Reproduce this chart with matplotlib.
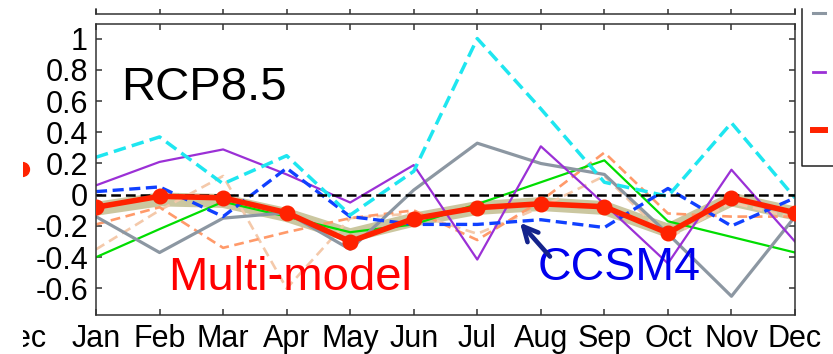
import matplotlib
matplotlib.use("Agg")
import matplotlib.pyplot as plt
from matplotlib.lines import Line2D
from matplotlib.transforms import Bbox, blended_transform_factory, offset_copy

plt.rcParams["font.family"] = ["Liberation Sans", "DejaVu Sans"]
plt.rcParams["axes.unicode_minus"] = False
plt.rcParams["lines.scale_dashes"] = False

# ---- data -------------------------------------------------------------
months = ["Jan", "Feb", "Mar", "Apr", "May", "Jun",
          "Jul", "Aug", "Sep", "Oct", "Nov", "Dec"]
month_idx = list(range(1, 13))

multi_model = [-0.08, -0.01, -0.02, -0.115, -0.30, -0.153,
               -0.083, -0.058, -0.077, -0.245, -0.02, -0.115]
ensemble_band = [-0.09, -0.03, -0.04, -0.13, -0.26, -0.16,
                 -0.085, -0.06, -0.085, -0.23, -0.03, -0.12]
model_gray = [-0.14, -0.37, -0.15, -0.115, -0.35, 0.03,
              0.33, 0.20, 0.13, -0.25, -0.65, -0.14]
model_cyan = [0.24, 0.37, 0.07, 0.25, -0.13, 0.15,
              1.00, 0.55, 0.08, -0.01, 0.46, -0.02]
model_purple = [0.06, 0.21, 0.29, 0.13, -0.05, 0.19,
                -0.415, 0.31, -0.06, -0.44, 0.16, -0.30]
model_green = [-0.40, -0.22, -0.045, -0.14, -0.24, -0.19,
               -0.06, 0.08, 0.22, -0.17, -0.27, -0.37]
ccsm4 = [0.02, 0.05, -0.14, 0.17, -0.14, -0.19,
         -0.19, -0.16, -0.21, 0.04, -0.20, -0.02]
model_salmon = [-0.19, -0.08, -0.34, -0.24, -0.15, -0.10,
                -0.29, -0.04, 0.27, -0.12, -0.14, -0.14]
model_peach = [-0.35, -0.10, 0.12, -0.60, -0.15, -0.12,
               -0.25, -0.08, 0.12, -0.28, -0.05, -0.15]

y_ticks = [-0.6, -0.4, -0.2, 0, 0.2, 0.4, 0.6, 0.8, 1]
y_tick_labels = ["-0.6", "-0.4", "-0.2", "0", "0.2", "0.4", "0.6", "0.8", "1"]

# ---- figure -----------------------------------------------------------
W, H = 833, 354
fig = plt.figure(figsize=(W / 100, H / 100), dpi=100)


def fx(px):
    return px / W


def fy(py):
    return 1 - py / H


RED = "#ff2200"
INK = "#333333"
TICK_FS = 22
X_PAD = 6.8

ax = fig.add_axes([fx(96), fy(315), fx(795) - fx(96), fy(24) - fy(315)])
ax.set_xlim(1, 12)
ax.set_ylim(-0.77, 1.093)

ax.plot(month_idx, ensemble_band, color="#cbc7a0", lw=10,
        solid_capstyle="butt", zorder=1.5)
ax.plot(month_idx, model_peach, color="#f4c9aa", lw=1.9,
        dashes=(7, 4), zorder=2)
ax.plot(month_idx, model_salmon, color="#ff9a6a", lw=1.9,
        dashes=(7, 4), zorder=2)
ax.plot(month_idx, model_green, color="#00dd00", lw=1.6, zorder=2)
ax.plot(month_idx, model_gray, color="#8c97a2", lw=2.3, zorder=2)
ax.plot(month_idx, model_purple, color="#9b30d6", lw=1.6, zorder=2)
ax.plot(month_idx, ccsm4, color="#1040ff", lw=2.4,
        dashes=(8, 4), zorder=2)
ax.plot(month_idx, model_cyan, color="#1ee6f0", lw=2.5,
        dashes=(9, 4.5), zorder=2)
ax.axhline(0, color="black", lw=1.8, dashes=(7, 3.6), zorder=3)
ax.plot(month_idx, multi_model, color=RED, lw=4, marker="o",
        ms=10.5, mfc=RED, mec=RED, zorder=5)

ax.set_xticks(month_idx, months)
ax.set_yticks(y_ticks, y_tick_labels)
ax.tick_params(direction="in", length=4.3, width=1.1, color=INK,
               top=True, right=True, labelsize=TICK_FS)
ax.tick_params(axis="y", pad=5.8)
ax.tick_params(axis="x", pad=X_PAD)
for sp in ax.spines.values():
    sp.set_linewidth(1.1)
    sp.set_color(INK)

ax.text(1.393, 0.607, "RCP8.5", fontsize=34, color="black",
        va="baseline", ha="left", zorder=6)
ax.text(2.14, -0.607, "Multi-model", fontsize=34, color="#ff0000",
        va="baseline", ha="left", zorder=6)
ax.text(7.95, -0.543, "CCSM4", fontsize=33.5, color="#0000ee",
        va="baseline", ha="left", zorder=6)
ax.annotate("", xy=(7.672, -0.179), xytext=(8.144, -0.396),
            arrowprops=dict(arrowstyle="->", lw=3.3, color="#14238c",
                            mutation_scale=26, shrinkA=0, shrinkB=0),
            zorder=6)

# previous-year December label, cut by the left margin
left_clip = Bbox.from_extents(23, 0, W, H)
dec_tr = offset_copy(blended_transform_factory(fig.transFigure, ax.transAxes),
                     fig=fig, y=-X_PAD, units="points")
t = fig.text(fx(20), 0, "Dec", ha="center", va="top", transform=dec_tr,
             fontsize=TICK_FS)
t.set_clip_box(left_clip)
t.set_clip_on(True)

# strip of the panel above
ax_up = fig.add_axes([fx(96), fy(14), fx(795) - fx(96), fy(9) - fy(14)])
ax_up.set_xlim(1, 12)
ax_up.set_xticks(month_idx)
ax_up.set_xticklabels([])
ax_up.set_yticks([])
ax_up.spines["top"].set_visible(False)
ax_up.tick_params(direction="in", length=3.6, width=1.1, color=INK)
for sp in ax_up.spines.values():
    sp.set_linewidth(1.1)
    sp.set_color(INK)
ax_up.patch.set_alpha(0)


# legend box, partly outside the figure
def px_line(xs, ys, **kw):
    fig.add_artist(Line2D([fx(v) for v in xs], [fy(v) for v in ys],
                          transform=fig.transFigure, **kw))


px_line([802, 802, 840], [9, 166, 166], color="#222222", lw=1.1)
px_line([813, 825], [13, 13], color="#8c97a2", lw=2.2)
px_line([813, 825], [72, 72], color="#9b30d6", lw=2.0)
px_line([813, 825], [130, 130], color=RED, lw=4.3)

# marker of the neighbouring panel, cut by the left margin
m = Line2D([fx(22)], [fy(169)], marker="o", ms=10, color=RED,
           transform=fig.transFigure, linestyle="none")
m.set_clip_box(left_clip)
m.set_clip_on(True)
fig.add_artist(m)

fig.savefig("out.png", dpi=100)
